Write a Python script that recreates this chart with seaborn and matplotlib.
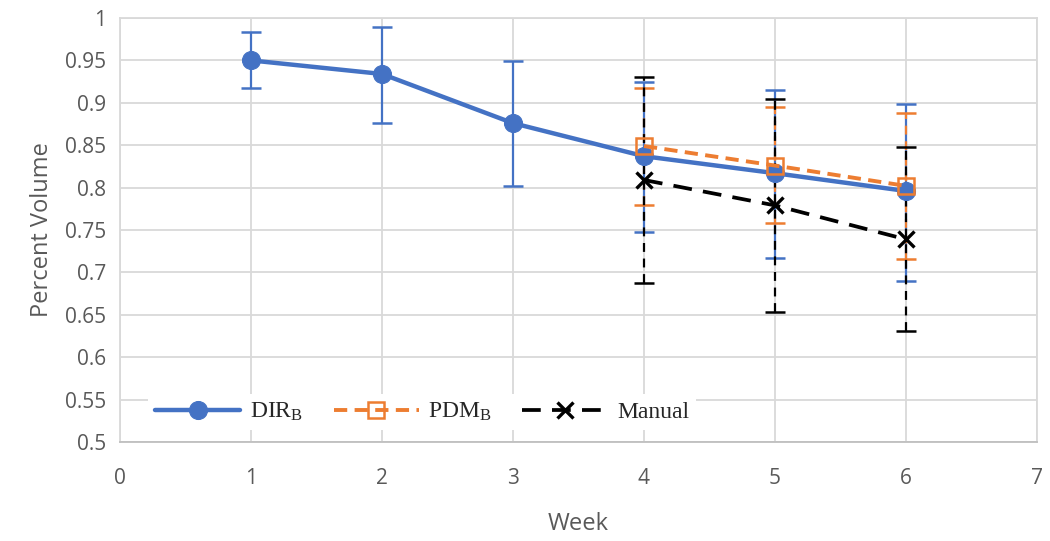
import numpy as np
import pandas as pd
import matplotlib
matplotlib.use("Agg")
import matplotlib.pyplot as plt
import seaborn as sns

# values
weeks_dir = [1, 2, 3, 4, 5, 6]
dir_mean = [0.950, 0.934, 0.876, 0.837, 0.817, 0.796]
dir_hi = [0.984, 0.989, 0.949, 0.925, 0.915, 0.899]
dir_lo = [0.917, 0.876, 0.802, 0.748, 0.717, 0.690]

weeks_pdm = [4, 5, 6]
pdm_mean = [0.849, 0.826, 0.802]
pdm_hi = [0.918, 0.895, 0.888]
pdm_lo = [0.779, 0.758, 0.716]

weeks_man = [4, 5, 6]
man_mean = [0.809, 0.779, 0.739]
man_hi = [0.931, 0.905, 0.848]
man_lo = [0.687, 0.653, 0.631]

BLUE = "#4472C4"
ORANGE = "#ED7D31"
BLACK = "#000000"
GRID = "#D9D9D9"
TEXT = "#595959"


def main():
    sns.set_style("white")
    plt.rcParams["font.family"] = ["Open Sans", "DejaVu Sans"]

    fig = plt.figure(figsize=(10.5, 5.41), dpi=100)
    ax = fig.add_axes([120 / 1050, 1 - 442 / 541, (1037 - 120) / 1050, (442 - 18) / 541])

    series = [
        (r"$\mathregular{DIR_B}$", weeks_dir, dir_mean, dir_lo, dir_hi, BLUE, "-", "o"),
        (r"$\mathregular{PDM_B}$", weeks_pdm, pdm_mean, pdm_lo, pdm_hi, ORANGE, (0, (3.4, 1.9)), "s"),
        ("Manual", weeks_man, man_mean, man_lo, man_hi, BLACK, (0, (5.0, 3.0)), "x"),
    ]

    for name, x, y, lo, hi, col, ls, mk in series:
        y = np.array(y)
        yerr = [y - np.array(lo), np.array(hi) - y]
        eb = ax.errorbar(x, y, yerr=yerr, fmt="none", ecolor=col, elinewidth=1.6,
                         capsize=7, capthick=1.8, zorder=2)
        if ls != "-":
            for lc in eb[2]:
                lc.set_linestyle((0, (4, 3)))
        df = pd.DataFrame({"week": x, "val": y})
        if mk == "o":
            kw = dict(marker="o", markersize=13, markerfacecolor=col, markeredgecolor=col)
            lw = 3.2
        elif mk == "s":
            kw = dict(marker="s", markersize=11, markerfacecolor="none",
                      markeredgecolor=col, markeredgewidth=1.8)
            lw = 2.8
        else:
            kw = dict(marker="x", markersize=11, markeredgecolor=col, markeredgewidth=2.4)
            lw = 2.7
        sns.lineplot(data=df, x="week", y="val", ax=ax, color=col, linewidth=lw,
                     linestyle=ls, label=name, zorder=3, **kw)

    ax.set_xlim(0, 7)
    ax.set_ylim(0.5, 1.0)
    ax.set_xticks(range(0, 8))
    yt = np.arange(0.5, 1.001, 0.05)
    ax.set_yticks(yt)
    ax.set_yticklabels([f"{v:.2f}".rstrip("0").rstrip(".") for v in yt])
    ax.grid(True, color=GRID, linewidth=1.3)
    ax.set_axisbelow(True)
    for s in ax.spines.values():
        s.set_color(GRID)
        s.set_linewidth(1.3)
    ax.spines["bottom"].set_color("#BFBFBF")
    ax.tick_params(axis="both", colors=TEXT, labelsize=15, length=0)
    ax.tick_params(axis="x", pad=19)
    ax.tick_params(axis="y", pad=10)
    ax.set_xlabel("Week", fontsize=17, color=TEXT, labelpad=16)
    ax.set_ylabel("Percent Volume", fontsize=17, color=TEXT, labelpad=8)

    leg = ax.legend(loc="lower left", bbox_to_anchor=(0.018, 0.0), ncol=3, frameon=True,
                    fancybox=False, edgecolor="white", framealpha=1.0,
                    prop={"family": "Liberation Serif", "size": 17},
                    handlelength=3.6, handletextpad=0.4, columnspacing=1.3, borderpad=0.3)
    leg.get_frame().set_linewidth(0)

    fig.savefig("out.png", dpi=100)
    plt.close(fig)


if __name__ == "__main__":
    main()
